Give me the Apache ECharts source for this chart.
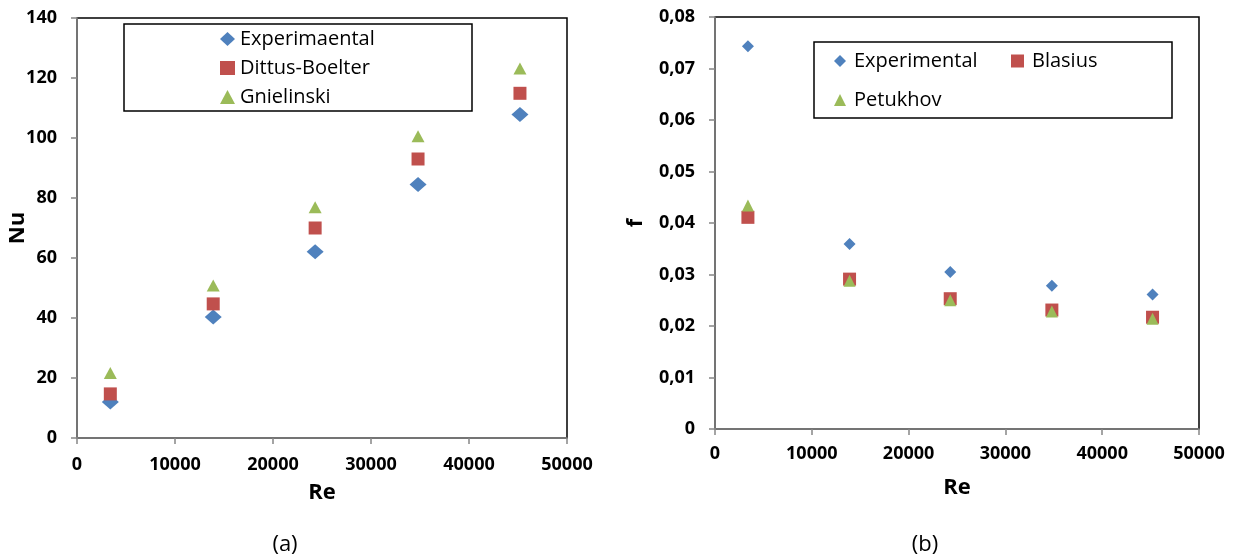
<!DOCTYPE html>
<html>
<head>
<meta charset="utf-8">
<script src="https://cdn.jsdelivr.net/npm/echarts@6/dist/echarts.min.js"></script>
<style>
  html, body { margin: 0; padding: 0; background: #fff; }
  #chart { width: 1234px; height: 558px; }
</style>
</head>
<body>
<div id="chart"></div>
<script>
// Reynolds numbers shared by both panels
const reynolds = [3400, 13900, 24300, 34800, 45200];

// Panel (a): Nusselt number
const nuExperimental = [12.0, 40.3, 62.1, 84.5, 107.8];
const nuDittusBoelter = [14.7, 44.7, 70.0, 93.0, 114.9];
const nuGnielinski = [21.7, 50.8, 76.9, 100.6, 123.2];

// Panel (b): friction factor
const fExperimental = [0.0743, 0.0359, 0.0305, 0.0278, 0.0261];
const fBlasius = [0.0411, 0.0291, 0.0253, 0.0231, 0.0217];
const fPetukhov = [0.0434, 0.0288, 0.0250, 0.0228, 0.0214];

const nuNames = ['Experimaental', 'Dittus-Boelter', 'Gnielinski'];
const fNames = ['Experimental', 'Blasius', 'Petukhov'];
const captions = ['(a)', '(b)'];

const BLUE = '#4F81BD', RED = '#C0504D', GREEN = '#9BBB59';
const FONT = 'Open Sans';
const AXIS_GRAY = '#878787';

const pairs = ys => reynolds.map((x, i) => [x, ys[i]]);

const tickLabel = { fontFamily: FONT, fontWeight: 'bold', fontSize: 18, color: '#000' };
const titleStyle = { fontFamily: FONT, fontWeight: 'bold', fontSize: 22, color: '#000' };

function xAxisFor(gridIndex, gap, labelMargin) {
  return {
    type: 'value', gridIndex, min: 0, max: 50000, interval: 10000,
    name: 'Re', nameLocation: 'middle', nameGap: gap, nameMoveOverlap: false,
    nameTextStyle: titleStyle,
    axisLine: { show: true, onZero: false, lineStyle: { color: AXIS_GRAY, width: 1.5 } },
    axisTick: { show: true, length: 6, lineStyle: { color: AXIS_GRAY, width: 1.5 } },
    axisLabel: Object.assign({ margin: labelMargin, formatter: v => String(v) }, tickLabel),
    splitLine: { show: false }
  };
}

function yAxisFor(gridIndex, opts) {
  return Object.assign({
    type: 'value', gridIndex, min: 0,
    nameLocation: 'middle', nameMoveOverlap: false,
    nameTextStyle: titleStyle,
    axisLine: { show: true, onZero: false, lineStyle: { color: AXIS_GRAY, width: 1.5 } },
    axisTick: { show: true, length: 6, lineStyle: { color: AXIS_GRAY, width: 1.5 } },
    splitLine: { show: false }
  }, opts);
}

function scatter(name, data, symbol, size, color, idx) {
  return {
    type: 'scatter', name, data, symbol, symbolSize: size,
    xAxisIndex: idx, yAxisIndex: idx,
    itemStyle: { color, opacity: 1 },
    emphasis: { disabled: true }
  };
}

const legendText = { fontFamily: FONT, fontSize: 20, color: '#000', lineHeight: 20 };

const option = {
  animation: false,
  backgroundColor: '#fff',
  grid: [
    { left: 77, top: 18, width: 490, height: 420, show: true, borderColor: '#000', borderWidth: 1.5, backgroundColor: 'transparent' },
    { left: 715, top: 17, width: 484, height: 412, show: true, borderColor: '#000', borderWidth: 1.5, backgroundColor: 'transparent' }
  ],
  xAxis: [xAxisFor(0, 44, 18), xAxisFor(1, 48, 16)],
  yAxis: [
    yAxisFor(0, {
      max: 140, interval: 20, name: 'Nu', nameGap: 48,
      axisLabel: Object.assign({ margin: 20 }, tickLabel)
    }),
    yAxisFor(1, {
      max: 0.08, interval: 0.01, name: 'f', nameGap: 68,
      axisLabel: Object.assign({
        margin: 20,
        formatter: v => (v === 0 ? '0' : v.toFixed(2).replace('.', ','))
      }, tickLabel)
    })
  ],
  legend: [
    {
      data: nuNames, orient: 'vertical', left: 215, top: 24,
      itemWidth: 15, itemHeight: 14, itemGap: 9,
      textStyle: legendText, selectedMode: false
    },
    {
      data: [fNames[0]], left: 829, top: 46,
      itemWidth: 12, itemHeight: 12,
      textStyle: Object.assign({ padding: [0, 0, 0, 3] }, legendText), selectedMode: false
    },
    {
      data: [fNames[1]], left: 1006, top: 46,
      itemWidth: 13, itemHeight: 13,
      textStyle: Object.assign({ padding: [0, 0, 0, 3] }, legendText), selectedMode: false
    },
    {
      data: [fNames[2]], left: 829, top: 85,
      itemWidth: 12, itemHeight: 12,
      textStyle: Object.assign({ padding: [0, 0, 0, 3] }, legendText), selectedMode: false
    }
  ],
  series: [
    scatter(nuNames[0], pairs(nuExperimental), 'diamond', [17, 15], BLUE, 0),
    scatter(nuNames[1], pairs(nuDittusBoelter), 'rect', [13, 13], RED, 0),
    scatter(nuNames[2], pairs(nuGnielinski), 'triangle', [13, 12], GREEN, 0),
    scatter(fNames[0], pairs(fExperimental), 'diamond', [12, 12], BLUE, 1),
    scatter(fNames[1], pairs(fBlasius), 'rect', [13, 13], RED, 1),
    scatter(fNames[2], pairs(fPetukhov), 'triangle', [12, 12], GREEN, 1)
  ],
  graphic: [
    // legend frames
    { type: 'rect', shape: { x: 124, y: 24, width: 348, height: 87 }, style: { fill: 'none', stroke: '#000', lineWidth: 1.5 }, z: 5 },
    { type: 'rect', shape: { x: 814, y: 42, width: 358, height: 76 }, style: { fill: 'none', stroke: '#000', lineWidth: 1.5 }, z: 5 },
    // panel captions
    { type: 'text', x: 285, y: 545, style: { text: captions[0], font: '22px "Open Sans"', fill: '#000', textAlign: 'center', textVerticalAlign: 'middle' } },
    { type: 'text', x: 925, y: 545, style: { text: captions[1], font: '22px "Open Sans"', fill: '#000', textAlign: 'center', textVerticalAlign: 'middle' } }
  ]
};

const chart = echarts.init(document.getElementById('chart'), null, { renderer: 'canvas' });
chart.setOption(option);
</script>
</body>
</html>
